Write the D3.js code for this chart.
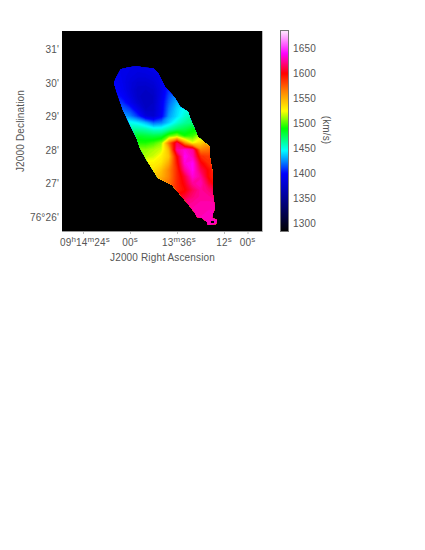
<!DOCTYPE html>
<html>
<head>
<meta charset="utf-8">
<script src="https://cdn.jsdelivr.net/npm/d3@7"></script>
<style>
    body { margin: 0; background: #fff; }
    text { font-family: "Liberation Sans", sans-serif; font-size: 10px; fill: #555; letter-spacing: 0.15px; }
</style>
</head>
<body>
<svg id="chart" width="425" height="550"></svg>
<script>
// RA is in seconds after 09h13m00s, Dec in arcmin after 76d00m
var raTicks = [84, 60, 36, 12, 0];
var raTickLabels = [
    [["09", 0], ["h", 1], ["14", 0], ["m", 1], ["24", 0], ["s", 1]],
    [["00", 0], ["s", 1]],
    [["13", 0], ["m", 1], ["36", 0], ["s", 1]],
    [["12", 0], ["s", 1]],
    [["00", 0], ["s", 1]]
];
var decTicks = [31, 30, 29, 28, 27, 26];
var decTickLabels = ["31'", "30'", "29'", "28'", "27'", "76°26'"];
var velTicks = [1300, 1350, 1400, 1450, 1500, 1550, 1600, 1650];

// colour table of the wedge
var velStops = [1284, 1400, 1446, 1490, 1525, 1565, 1600, 1640, 1684];
var velColours = ["#000000", "#0000ff", "#00ffff", "#00ff00", "#ffff00", "#ff8000", "#ff0000", "#ff00ff", "#ffe4ff"];

// edge of the emission, [RA, Dec]
var outline = [
    [64.75, 30.40], [60.5, 30.46], [56.57, 30.49], [52, 30.44], [48.1, 30.43], [45.7, 30.29], [42.12, 29.88],
    [37.01, 29.54], [34.46, 29.28], [30.37, 29.13], [29.35, 28.94], [27.82, 28.74], [25.27, 28.38],
    [19.14, 28.08], [19.14, 27.76], [17.6, 27.25], [17.76, 26.74], [16.6, 26.27], [17.6, 26.12],
    [18.1, 25.97], [15.6, 25.91], [16.1, 25.79], [20.2, 25.76], [20.7, 25.85], [23.2, 25.97],
    [25.8, 26.0], [26.8, 26.12], [29.9, 26.36], [33.44, 26.60], [38.55, 26.95], [45.7, 27.16],
    [51.47, 27.70], [54.89, 28.05], [56.57, 28.35], [59.13, 28.65], [63.57, 29.18], [66.8, 29.73],
    [68.17, 29.99], [67.15, 30.14]
];
// small gap in the southern tip
var outlineHole = [[18.9, 25.88], [17.1, 25.88], [17.1, 25.82], [18.9, 25.82]];

// velocity field, km/s
var gridRa = [72, 68, 64, 60, 56, 52, 48, 44, 40, 36, 32, 28, 24, 20, 16, 12];
var gridDec = [30.6, 30.4, 30.2, 30.0, 29.8, 29.6, 29.4, 29.2, 29.0, 28.8, 28.6, 28.4, 28.2,
               28.0, 27.8, 27.6, 27.4, 27.2, 27.0, 26.8, 26.6, 26.4, 26.2, 26.0, 25.8, 25.6];
var velocity = [
    [1395, 1395, 1395, 1392, 1390, 1392, 1394, 1397, 1400, 1405, 1410, 1410, 1410, 1410, 1410, 1410],
    [1395, 1395, 1392, 1390, 1388, 1390, 1392, 1395, 1400, 1405, 1410, 1410, 1410, 1410, 1410, 1410],
    [1398, 1398, 1392, 1388, 1385, 1385, 1388, 1392, 1400, 1405, 1412, 1412, 1412, 1412, 1412, 1412],
    [1400, 1400, 1393, 1385, 1380, 1380, 1383, 1392, 1405, 1415, 1420, 1420, 1420, 1420, 1420, 1420],
    [1405, 1403, 1395, 1385, 1376, 1375, 1378, 1390, 1410, 1420, 1428, 1430, 1430, 1430, 1430, 1430],
    [1410, 1408, 1400, 1388, 1376, 1372, 1375, 1392, 1415, 1428, 1435, 1440, 1440, 1440, 1440, 1440],
    [1415, 1415, 1410, 1395, 1380, 1372, 1375, 1395, 1420, 1435, 1445, 1450, 1450, 1450, 1450, 1450],
    [1425, 1425, 1420, 1412, 1392, 1375, 1377, 1395, 1425, 1440, 1450, 1458, 1462, 1462, 1462, 1462],
    [1440, 1440, 1432, 1425, 1410, 1385, 1380, 1398, 1430, 1442, 1455, 1465, 1470, 1470, 1470, 1470],
    [1450, 1450, 1450, 1450, 1445, 1435, 1420, 1425, 1440, 1455, 1465, 1470, 1478, 1480, 1480, 1480],
    [1465, 1465, 1465, 1465, 1465, 1462, 1455, 1455, 1465, 1475, 1480, 1488, 1495, 1505, 1505, 1505],
    [1485, 1485, 1485, 1485, 1485, 1482, 1480, 1482, 1505, 1515, 1495, 1500, 1520, 1535, 1535, 1535],
    [1495, 1495, 1495, 1495, 1495, 1495, 1500, 1510, 1570, 1615, 1560, 1525, 1540, 1555, 1565, 1565],
    [1510, 1510, 1510, 1510, 1510, 1510, 1515, 1520, 1550, 1625, 1635, 1625, 1565, 1570, 1585, 1585],
    [1515, 1515, 1515, 1515, 1515, 1515, 1520, 1530, 1545, 1600, 1640, 1630, 1590, 1585, 1595, 1595],
    [1530, 1530, 1530, 1530, 1530, 1530, 1530, 1535, 1555, 1595, 1635, 1640, 1605, 1590, 1590, 1590],
    [1535, 1535, 1535, 1535, 1535, 1535, 1535, 1545, 1565, 1590, 1625, 1640, 1615, 1600, 1590, 1590],
    [1545, 1545, 1545, 1545, 1545, 1545, 1545, 1550, 1565, 1590, 1610, 1635, 1625, 1600, 1590, 1590],
    [1560, 1560, 1560, 1560, 1560, 1560, 1560, 1560, 1570, 1590, 1605, 1625, 1630, 1610, 1595, 1595],
    [1580, 1580, 1580, 1580, 1580, 1580, 1580, 1580, 1580, 1590, 1600, 1615, 1625, 1620, 1610, 1610],
    [1600, 1600, 1600, 1600, 1600, 1600, 1600, 1600, 1600, 1605, 1610, 1620, 1625, 1625, 1620, 1620],
    [1620, 1620, 1620, 1620, 1620, 1620, 1620, 1620, 1620, 1620, 1622, 1625, 1628, 1628, 1628, 1628],
    [1628, 1628, 1628, 1628, 1628, 1628, 1628, 1628, 1628, 1628, 1628, 1628, 1628, 1630, 1630, 1630],
    [1628, 1628, 1628, 1628, 1628, 1628, 1628, 1628, 1628, 1628, 1628, 1628, 1630, 1630, 1630, 1630],
    [1630, 1630, 1630, 1630, 1630, 1630, 1630, 1630, 1630, 1630, 1630, 1630, 1630, 1630, 1630, 1630],
    [1630, 1630, 1630, 1630, 1630, 1630, 1630, 1630, 1630, 1630, 1630, 1630, 1630, 1630, 1630, 1630]
];

var svg = d3.select("#chart");
var frame = { left: 62, right: 262, top: 31, bottom: 231 };
var wedge = { left: 281, right: 288 };

var x = d3.scaleLinear().domain([84, 0]).range([83, 247.5]);
var y = d3.scaleLinear().domain([26, 31]).range([217, 49]);
var wedgeY = d3.scaleLinear().domain([1284, 1684]).range([frame.bottom, frame.top]);
var colour = d3.scaleLinear().domain(velStops).range(velColours);

// image panel
svg.append("rect")
    .attr("x", frame.left)
    .attr("y", frame.top)
    .attr("width", frame.right - frame.left)
    .attr("height", frame.bottom - frame.top)
    .attr("fill", "#000");

var edge = d3.line().x(d => x(d[0])).y(d => y(d[1])).curve(d3.curveLinearClosed);

svg.append("clipPath").attr("id", "emission")
    .append("path")
    .attr("d", edge(outline) + edge(outlineHole))
    .attr("clip-rule", "evenodd")
    .attr("shape-rendering", "crispEdges");

// contour bands over the grid, grid index i sits at contour coordinate i + .5
var raOfCol = d3.scaleLinear().domain([0, gridRa.length - 1]).range([gridRa[0], gridRa[gridRa.length - 1]]);
var decOfRow = d3.scaleLinear().domain([0, gridDec.length - 1]).range([gridDec[0], gridDec[gridDec.length - 1]]);
var gridPath = d3.geoPath(d3.geoTransform({
    point: function(cx, cy) {
        this.stream.point(x(raOfCol(cx - 0.5)), y(decOfRow(cy - 0.5)));
    }
}));

var bands = d3.contours()
    .size([gridRa.length, gridDec.length])
    .thresholds(d3.range(1360, 1650, 3))(velocity.flat());

svg.append("g")
    .attr("clip-path", "url(#emission)")
    .selectAll("path")
    .data(bands)
    .join("path")
    .attr("d", gridPath)
    .attr("fill", d => colour(d.value))
    .attr("stroke", d => colour(d.value))
    .attr("stroke-width", 0.5);

// axes
var xAxis = d3.axisBottom(x).tickValues(raTicks).tickSize(3).tickFormat("");
var yAxis = d3.axisLeft(y).tickValues(decTicks).tickSize(0).tickFormat((d, i) => decTickLabels[i]);

var gx = svg.append("g").attr("transform", "translate(0," + frame.bottom + ")").call(xAxis);
var gy = svg.append("g").attr("transform", "translate(" + (frame.left - 1) + ",0)").call(yAxis);
gx.select(".domain").remove();
gy.select(".domain").remove();
gx.selectAll("line").attr("stroke", "#bbb");
gy.selectAll("text").attr("x", -2).attr("dy", "0.35em").attr("font-size", null);

raTicks.forEach(function(t, i) {
    var label = svg.append("text")
        .attr("x", x(t) + (raTickLabels[i].length > 2 ? 2 : 0))
        .attr("y", 246)
        .attr("text-anchor", "middle");
    var raised = 0;
    raTickLabels[i].forEach(function(part) {
        var shift = part[1] * -4 - raised;
        raised = part[1] * -4;
        label.append("tspan")
            .attr("dy", shift)
            .style("font-size", part[1] ? "8px" : "10px")
            .text(part[0]);
    });
});

svg.append("line")
    .attr("x1", frame.left).attr("x2", frame.right)
    .attr("y1", frame.bottom + 0.5).attr("y2", frame.bottom + 0.5)
    .attr("stroke", "#999");
svg.append("line")
    .attr("x1", frame.right + 0.5).attr("x2", frame.right + 0.5)
    .attr("y1", frame.top).attr("y2", frame.bottom + 1)
    .attr("stroke", "#bbb");

svg.append("text")
    .attr("x", 162.5)
    .attr("y", 261)
    .attr("text-anchor", "middle")
    .text("J2000 Right Ascension");

svg.append("text")
    .attr("transform", "translate(24,131) rotate(-90)")
    .attr("text-anchor", "middle")
    .text("J2000 Declination");

// colour wedge
svg.append("g")
    .selectAll("rect")
    .data(d3.range(1284, 1684, 2))
    .join("rect")
    .attr("x", wedge.left)
    .attr("width", wedge.right - wedge.left)
    .attr("y", d => wedgeY(d + 2))
    .attr("height", d => wedgeY(d) - wedgeY(d + 2) + 0.5)
    .attr("fill", d => colour(d + 1));

svg.append("rect")
    .attr("x", wedge.left - 0.5)
    .attr("y", frame.top - 0.5)
    .attr("width", wedge.right - wedge.left + 1)
    .attr("height", frame.bottom - frame.top + 1)
    .attr("fill", "none")
    .attr("stroke", "#777");

var gw = svg.append("g")
    .attr("transform", "translate(" + wedge.right + ",0)")
    .call(d3.axisRight(wedgeY).tickValues(velTicks).tickSize(0).tickFormat(d3.format("d")));
gw.select(".domain").remove();
gw.selectAll("text").attr("x", 5).attr("font-size", null);

svg.append("text")
    .attr("transform", "translate(323,130) rotate(90)")
    .attr("text-anchor", "middle")
    .text("(km/s)");
</script>
</body>
</html>
